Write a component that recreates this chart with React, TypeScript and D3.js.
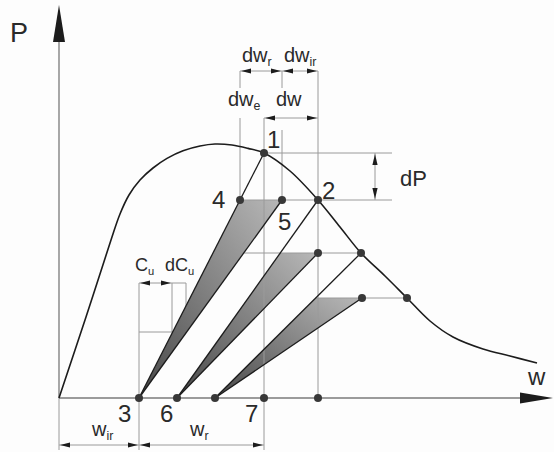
import React from 'react';
import * as d3 from 'd3';

const W = 554;
const H = 452;

// envelope (backbone) curve, [w, P]
const envelope: [number, number][] = [
  [0, 0], [5.4, 20.25], [10.4, 39.5], [12.2, 46], [14, 50.75], [16.2, 54.5], [18.8, 57.5],
  [21.6, 59.9], [24.8, 61.8], [28.2, 63], [31.2, 63.5], [34.6, 63.25], [37.8, 62.4], [41, 61.25],
  [46.2, 56.75], [51.8, 49.5], [56.2, 42.75], [60.4, 36.25], [65.2, 30.5], [69.6, 25],
  [74.2, 19.25], [78.8, 15.25], [84.8, 12.25], [90.2, 10.5], [95.6, 8.75],
];

// unload / reload cycles
const peakW = [41, 51.8, 60.4];
const peakP = [61.25, 49.5, 36.25];
const residualW = [16, 23.6, 31.2];
const reloadW = [44.6, 51.8, 60.6];
const reloadP = [49.5, 36.25, 25];
const extraDots: [number, number][] = [[41, 0], [51.8, 0], [69.6, 25]];

// thin grey construction lines [w1, P1, w2, P2]
const guides: [number, number, number, number][] = [
  [36.2, 81.75, 36.2, 77.5], [36.2, 70, 36.2, 49.5],
  [44.6, 81.75, 44.6, 77.5], [44.6, 67, 44.6, 49.5],
  [51.8, 81.75, 51.8, 0], [41, 70, 41, 0],
  [36.2, 81.75, 51.8, 81.75], [41, 70, 51.8, 70],
  [41, 61.25, 66.6, 61.25], [36.2, 49.5, 66.6, 49.5],
  [36.9, 36.25, 60.4, 36.25], [51.3, 25, 69.6, 25],
  [16, 28.75, 16, 0], [22.6, 28.75, 22.6, 16.5], [25.4, 28.75, 25.4, 23],
  [16, 28.75, 25.4, 28.75], [16, 16.5, 22.7, 16.5],
  [0, 0, 0, -13], [16, 0, 16, -13], [41, 0, 41, -13],
  [0, -11.75, 41, -11.75], [63.2, 61.25, 63.2, 49.5],
];

// dimension arrows: horizontal [w1, w2, P], vertical [P1, P2, w]
const hDims: [number, number, number][] = [
  [36.2, 44.6, 81.75], [44.6, 51.8, 81.75], [41, 51.8, 70], [16, 22.6, 28.75],
  [0, 16, -11.75], [16, 41, -11.75],
];
const vDims: [number, number, number][] = [[61.25, 49.5, 63.2]];

const x = d3.scaleLinear().domain([0, 99]).range([59, 554]);
const y = d3.scaleLinear().domain([0, 100]).range([398, -2]);

const font = 'Liberation Sans, Arial, sans-serif';
const ink = '#1c1c1c';
const grey = '#9a9a9a';

// triangular arrowhead with tip at (tx, ty) pointing along (ux, uy)
function head(tx: number, ty: number, ux: number, uy: number, len = 10, hw = 2.6) {
  const bx = tx - ux * len, by = ty - uy * len;
  const px = -uy * hw, py = ux * hw;
  return `M${tx},${ty}L${bx + px},${by + py}L${bx - px},${by - py}Z`;
}

function onLine(w0: number, w1: number, p1: number, p: number) {
  return w0 + ((w1 - w0) * p) / p1;
}

function Sub({ xx, yy, main, sub, size }: { xx: number; yy: number; main: string; sub?: string; size: number }) {
  return (
    <text x={xx} y={yy} fontSize={size} fontFamily={font} fill="#2a2a2a">
      {main}
      {sub && (
        <tspan fontSize={size * 0.62} dy={size * 0.22}>
          {sub}
        </tspan>
      )}
    </text>
  );
}

export default function App() {
  const line = d3
    .line<[number, number]>()
    .x((d) => x(d[0]))
    .y((d) => y(d[1]))
    .curve(d3.curveCatmullRom.alpha(0.5));

  const cycles = peakW.map((pw, i) => {
    const apex: [number, number] = [residualW[i], 0];
    const left: [number, number] = [onLine(residualW[i], pw, peakP[i], reloadP[i]), reloadP[i]];
    const right: [number, number] = [reloadW[i], reloadP[i]];
    return { apex, left, right, peak: [pw, peakP[i]] as [number, number] };
  });

  const dots: [number, number][] = [
    ...cycles.map((c) => c.peak),
    ...cycles.map((c) => c.apex),
    ...cycles.map((c) => c.right),
    cycles[0].left,
    ...extraDots,
  ];

  const ax0 = x(0), ay0 = y(0);

  return (
    <svg width={W} height={H} style={{ position: 'absolute', left: 0, top: 0, background: '#fdfdfd' }}>
      <defs>
        {cycles.map((_, i) => (
          <linearGradient key={i} id={`g${i}`} x1="0" y1="1" x2="1" y2="0">
            <stop offset="0" stopColor="#474747" />
            <stop offset="1" stopColor="#b8b8b8" />
          </linearGradient>
        ))}
      </defs>

      {/* shaded wedges */}
      {cycles.map((c, i) => (
        <path
          key={i}
          d={`M${x(c.apex[0])},${y(0)}L${x(c.left[0])},${y(c.left[1])}L${x(c.right[0])},${y(c.right[1])}Z`}
          fill={`url(#g${i})`}
        />
      ))}

      {/* grey construction lines */}
      {guides.map((g, i) => (
        <line key={i} x1={x(g[0])} y1={y(g[1])} x2={x(g[2])} y2={y(g[3])} stroke={grey} strokeWidth={1} />
      ))}

      {/* axes */}
      <line x1={ax0} y1={ay0} x2={ax0} y2={y(92)} stroke="#7a7a7a" strokeWidth={1.3} />
      <line x1={ax0} y1={ay0} x2={x(94)} y2={ay0} stroke="#7a7a7a" strokeWidth={1.3} />
      <path d={head(ax0, y(98.25), 0, -1, 37, 6)} fill={ink} />
      <path d={head(x(99) - 1, ay0, 1, 0, 33, 5.5)} fill={ink} />

      {/* dimension arrowheads */}
      {hDims.map((d, i) => (
        <g key={i}>
          <path d={head(x(d[0]) + 1, y(d[2]), -1, 0)} fill={ink} />
          <path d={head(x(d[1]) - 1, y(d[2]), 1, 0)} fill={ink} />
        </g>
      ))}
      {vDims.map((d, i) => (
        <g key={i}>
          <path d={head(x(d[2]), y(d[0]) + 1, 0, -1, 11)} fill={ink} />
          <path d={head(x(d[2]), y(d[1]) - 1, 0, 1, 11)} fill={ink} />
        </g>
      ))}

      {/* envelope */}
      <path d={line(envelope) ?? ''} fill="none" stroke={ink} strokeWidth={1.6} />

      {/* unloading and reloading lines */}
      {cycles.map((c, i) => (
        <g key={i} stroke={ink} strokeWidth={1.3}>
          <line x1={x(c.peak[0])} y1={y(c.peak[1])} x2={x(c.apex[0])} y2={y(0)} />
          <line x1={x(c.apex[0])} y1={y(0)} x2={x(c.right[0])} y2={y(c.right[1])} />
        </g>
      ))}

      {dots.map((d, i) => (
        <circle key={i} cx={x(d[0])} cy={y(d[1])} r={4} fill="#383838" />
      ))}

      {/* labels */}
      <Sub xx={10} yy={42} main="P" size={27} />
      <Sub xx={528} yy={385} main="w" size={24} />
      <Sub xx={x(41) + 3} yy={y(61.25) - 5} main="1" size={24} />
      <Sub xx={x(51.8) + 4} yy={y(49.5) - 1} main="2" size={24} />
      <Sub xx={x(36.2) - 28} yy={y(49.5) + 8} main="4" size={24} />
      <Sub xx={x(44.6) - 4} yy={y(49.5) + 30} main="5" size={24} />
      <Sub xx={x(16) - 21} yy={422} main="3" size={24} />
      <Sub xx={x(23.6) - 17} yy={422} main="6" size={24} />
      <Sub xx={x(41) - 19} yy={422} main="7" size={24} />
      <Sub xx={242} yy={62} main="dw" sub="r" size={20} />
      <Sub xx={284} yy={62} main="dw" sub="ir" size={20} />
      <Sub xx={228} yy={106} main="dw" sub="e" size={20} />
      <Sub xx={276} yy={106} main="dw" size={20} />
      <Sub xx={400} yy={186} main="dP" size={22} />
      <Sub xx={135} yy={271} main="C" sub="u" size={18} />
      <Sub xx={165} yy={271} main="dC" sub="u" size={18} />
      <Sub xx={92} yy={436} main="w" sub="ir" size={20} />
      <Sub xx={190} yy={436} main="w" sub="r" size={20} />
    </svg>
  );
}
